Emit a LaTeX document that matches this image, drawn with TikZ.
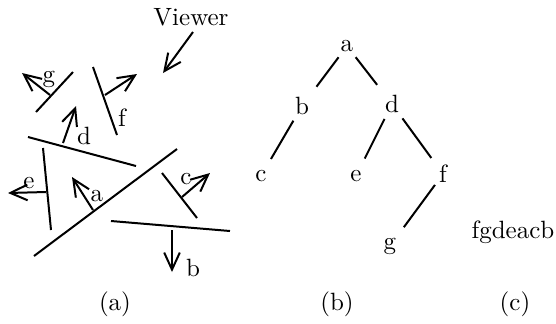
\documentclass[tikz,border=0pt]{standalone}
\usepackage{tikz}
\usetikzlibrary{arrows.meta}
\tikzset{
  >={Straight Barb[length=2.4mm,width=2.2mm]},
  seg/.style ={line width=0.8pt},
  vec/.style ={->,line width=0.8pt},
  tnode/.style={inner sep=0pt,font=\normalsize},
  tedge/.style={line width=0.8pt,shorten <=2.5pt,shorten >=5pt},
}
\begin{document}
\begin{tikzpicture}[x=0.4pt,y=-0.4pt]
  \useasboundingbox (0,0) rectangle (556,323);
  % (a) the scene of polygons seen by the viewer
  \node (viewer) at (191,17) {Viewer};
  \draw[vec] (193,32) -- (163,73);
  \draw[seg] (36,112) -- (73,72);      % g
  \draw[vec] (50,95) -- (22,73);
  \node at (49,79) {g};
  \draw[seg] (93,67) -- (117,135);     % f
  \draw[vec] (105,95) -- (137,74);
  \node at (122,118) {f};
  \draw[seg] (28,137) -- (136,166);    % d
  \draw[vec] (63,143) -- (76,106);
  \node at (84,136) {d};
  \draw[seg] (43,148) -- (51,230);     % e
  \draw[vec] (46,192) -- (8,193);
  \node at (29,183) {e};
  \draw[seg] (177,149) -- (34,256);    % a
  \draw[vec] (93,210) -- (72,177);
  \node at (97,196) {a};
  \draw[seg] (162,173) -- (197,218);   % c
  \draw[vec] (182,197) -- (210,173);
  \node at (186,179) {c};
  \draw[seg] (111,221) -- (230,231);   % b
  \draw[vec] (172,230) -- (172,272);
  \node at (193,268) {b};
  \node (capa) at (115,304) {(a)};
  % (b) the tree
  \node[tnode] (ta) at (347,46) {a};
  \node[tnode] (tb) at (302,106) {b};
  \node[tnode] (td) at (392,104) {d};
  \node[tnode] (tc) at (261,176) {c};
  \node[tnode] (te) at (356,176) {e};
  \node[tnode] (tf) at (443,174) {f};
  \node[tnode] (tg) at (390,246) {g};
  \draw[tedge] (ta) -- (tb);
  \draw[tedge] (ta) -- (td);
  \draw[tedge] (tb) -- (tc);
  \draw[tedge] (td) -- (te);
  \draw[tedge] (td) -- (tf);
  \draw[tedge] (tf) -- (tg);
  \node (capb) at (337,304) {(b)};
  % (c) the drawing order
  \node (order) at (513,232) {fgdeacb};
  \node (capc) at (515,304) {(c)};
\end{tikzpicture}
\end{document}
